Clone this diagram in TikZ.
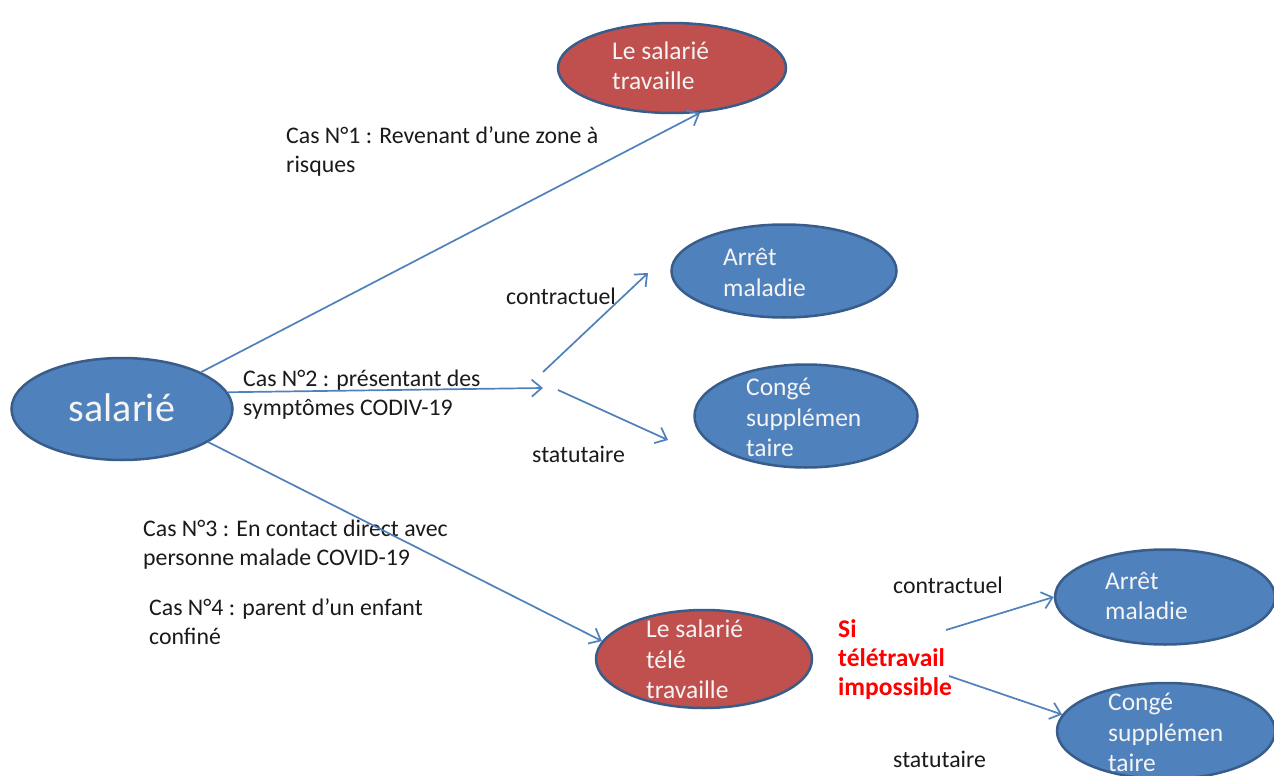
\documentclass[tikz,border=0pt]{standalone}
\usepackage{fontspec}
\setmainfont{Carlito}
\usetikzlibrary{shapes.geometric,arrows.meta}
\definecolor{bfill}{HTML}{4F81BD}
\definecolor{bline}{HTML}{385D8A}
\definecolor{rfill}{HTML}{C0504D}
\definecolor{arr}{HTML}{4F81BD}
\definecolor{txt}{HTML}{1A1A1A}
\definecolor{wtxt}{HTML}{F4F4F4}
\definecolor{redtxt}{HTML}{FF0000}
\tikzset{
  bell/.style={ellipse,draw=bline,line width=2.5pt,fill=bfill,inner sep=0pt},
  rell/.style={ellipse,draw=bline,line width=2.5pt,fill=rfill,inner sep=0pt},
  etext/.style={anchor=west,inner sep=0pt,align=left,text=wtxt,font=\fontsize{25.5}{30.5}\selectfont},
  lab/.style={anchor=west,inner sep=0pt,align=left,text=txt,font=\fontsize{23.8}{29}\selectfont},
  redlab/.style={anchor=west,inner sep=0pt,align=left,text=redtxt,font=\fontsize{25.5}{29}\selectfont\bfseries},
  conn/.style={draw=arr,line width=1.7pt,-{Straight Barb[length=10pt,width=17pt,line width=1.7pt]}},
}
\begin{document}
\begin{tikzpicture}[x=1pt,y=-1pt]
\useasboundingbox (0,0) rectangle (1274,776);
\clip (0,0) rectangle (1274,776);
\fill[white] (0,0) rectangle (1274,776);
% ellipses
\node[rell,minimum width=228pt,minimum height=90pt] (top) at (672,68) {};
\node[bell,minimum width=221pt,minimum height=102pt] (sal) at (122,409) {};
\node[bell,minimum width=225pt,minimum height=93pt] (am1) at (784,271) {};
\node[bell,minimum width=223pt,minimum height=103pt] (cs1) at (806,416) {};
\node[rell,minimum width=216pt,minimum height=98pt] (tele) at (704,659) {};
\node[bell,minimum width=220pt,minimum height=95pt] (am2) at (1165,597) {};
\node[bell,minimum width=218pt,minimum height=96pt] (cs2) at (1166,731) {};
% ellipse texts
\node[etext] (ttop) at (612,65.5) {Le salarié\\travaille};
\node[anchor=center,inner sep=0pt,text=wtxt,font=\fontsize{40}{42}\selectfont] (tsal) at (122,408) {salarié};
\node[etext] (tam1) at (723,272.5) {Arrêt\\maladie};
\node[etext] (tcs1) at (746,417.5) {Congé\\supplémen\\taire};
\node[etext] (ttele) at (646,659.5) {Le salarié\\télé\\travaille};
\node[etext] (tam2) at (1105,596) {Arrêt\\maladie};
\node[etext] (tcs2) at (1108,732.5) {Congé\\supplémen\\taire};
% labels
\node[lab] (l1) at (286,151.5) {Cas N°1 : Revenant d’une zone à\\risques};
\node[lab] (l2) at (243,394.5) {Cas N°2 : présentant des\\symptômes CODIV-19};
\node[lab] (l3) at (506,296) {contractuel};
\node[lab] (l4) at (532,454) {statutaire};
\node[lab] (l5) at (143,544.5) {Cas N°3 : En contact direct avec\\personne malade COVID-19};
\node[lab] (l6) at (149,622) {Cas N°4 : parent d’un enfant\\confiné};
\node[lab] (l7) at (893,585) {contractuel};
\node[redlab] (l8) at (838,660) {Si\\télétravail\\impossible};
\node[lab] (l9) at (893,759) {statutaire};
% free ends
\coordinate (s2) at (543,388);
\coordinate (c1s) at (543,372);
\coordinate (c1e) at (648,273);
\coordinate (st1s) at (558,390);
\coordinate (st1e) at (668,440);
\coordinate (c2s) at (946,630);
\coordinate (st2s) at (949,676);
% connectors
\draw[conn] (sal.25) -- (top.-58);
\draw[conn] (sal.9) -- (s2);
\draw[conn] (c1s) -- (c1e);
\draw[conn] (st1s) -- (st1e);
\draw[conn] (sal.-21) -- (tele.170);
\draw[conn] (c2s) -- (am2.180);
\draw[conn] (st2s) -- (cs2.171);
\end{tikzpicture}
\end{document}
